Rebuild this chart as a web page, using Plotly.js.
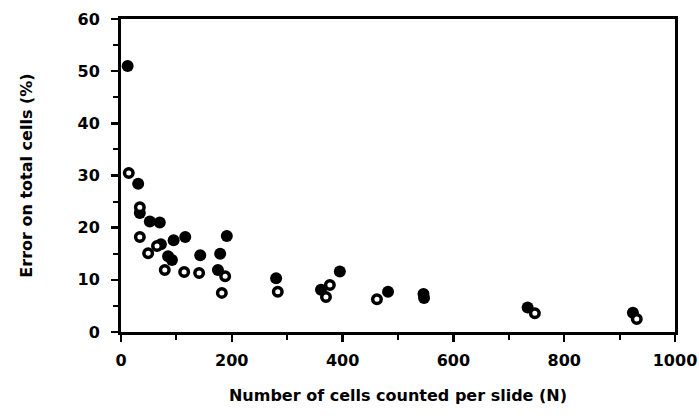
<!DOCTYPE html>
<html>
<head>
<meta charset="utf-8">
<script src="https://cdn.plot.ly/plotly-3.0.1.min.js"></script>
<style>html,body{margin:0;padding:0;background:#fff;}#chart{width:699px;height:419px;}
.xtick text,.ytick text,.g-xtitle text,.g-ytitle text{font-weight:bold !important;}</style>
</head>
<body>
<div id="chart"></div>
<script>
// Filled circles
const filledN = [12, 31, 34, 52, 70, 72, 95, 116, 85, 92, 143, 179, 175, 191, 280, 361, 395, 482, 546, 547, 734, 924];
const filledErr = [51, 28.4, 22.8, 21.2, 21.0, 16.8, 17.6, 18.2, 14.5, 13.8, 14.7, 15.0, 11.9, 18.4, 10.3, 8.1, 11.6, 7.7, 7.3, 6.5, 4.7, 3.7];
// Open circles
const openN = [14, 34, 34, 49, 65, 79, 114, 141, 188, 182, 283, 370, 377, 462, 747, 931];
const openErr = [30.5, 23.9, 18.2, 15.1, 16.5, 11.9, 11.5, 11.3, 10.7, 7.5, 7.7, 6.7, 9.0, 6.3, 3.6, 2.5];

const xTitle = "Number of cells counted per slide (N)";
const yTitle = "Error on total cells (%)";

const fam = "DejaVu Sans, sans-serif";

const traces = [
  {x: filledN, y: filledErr, type: "scatter", mode: "markers", cliponaxis: false,
   marker: {symbol: "circle", size: 12, color: "#000", line: {width: 0}}},
  {x: openN, y: openErr, type: "scatter", mode: "markers", cliponaxis: false,
   marker: {symbol: "circle", size: 8.5, color: "#fff", line: {width: 3.5, color: "#000"}}}
];

const axisCommon = {
  showgrid: false, zeroline: false, showline: true, linewidth: 3, linecolor: "#000",
  mirror: true, ticks: "outside", ticklen: 7, tickwidth: 2.5, tickcolor: "#000",
  tickfont: {family: fam, size: 16, color: "#000", weight: 700}
};

const layout = {
  width: 699, height: 419,
  margin: {l: 121, r: 24, t: 19, b: 87},
  paper_bgcolor: "#fff", plot_bgcolor: "#fff",
  showlegend: false,
  font: {family: fam, color: "#000"},
  xaxis: Object.assign({}, axisCommon, {
    range: [0, 1000], tickvals: [0, 200, 400, 600, 800, 1000],
    minor: {dtick: 100, tick0: 0, ticks: "outside", ticklen: 5, tickwidth: 2, tickcolor: "#000", showgrid: false},
    ticklabelstandoff: 5,
    title: {text: xTitle, standoff: 21, font: {family: fam, size: 16, color: "#000", weight: 700}}
  }),
  yaxis: Object.assign({}, axisCommon, {
    range: [0, 60], tickvals: [0, 10, 20, 30, 40, 50, 60],
    minor: {dtick: 5, tick0: 0, ticks: "outside", ticklen: 5, tickwidth: 2, tickcolor: "#000", showgrid: false},
    ticklabelstandoff: 8,
    title: {text: yTitle, standoff: 41, font: {family: fam, size: 16, color: "#000", weight: 700}}
  })
};

Plotly.newPlot("chart", traces, layout, {displayModeBar: false, staticPlot: true});
</script>
</body>
</html>
